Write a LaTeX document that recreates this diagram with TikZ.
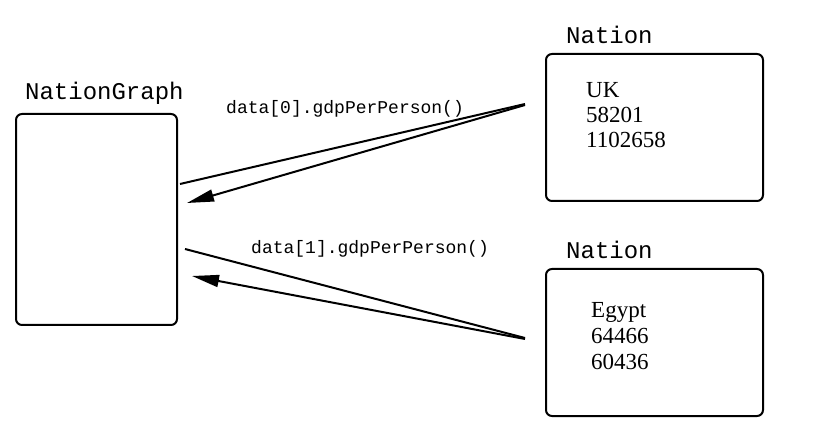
\documentclass[tikz,border=0pt]{standalone}
\usepackage{fontspec}
\setmainfont{Liberation Serif}
\setmonofont{Liberation Mono}
\usetikzlibrary{arrows.meta}
\begin{document}
\begin{tikzpicture}[x=1pt,y=-1pt,
  box/.style={draw, line width=2pt, rounded corners=6pt, inner sep=0pt, anchor=north west},
  cls/.style={font=\fontsize{24}{24}\selectfont\ttfamily, anchor=base west, inner sep=0pt},
  msg/.style={font=\fontsize{18}{18}\selectfont\ttfamily, anchor=base west, inner sep=0pt},
  val/.style={font=\fontsize{23}{23}\selectfont\rmfamily, anchor=base west, inner sep=0pt},
  conn/.style={line width=2pt},
  call/.style={line width=2pt, -{Triangle[length=27pt,width=12pt]}}]
\useasboundingbox (0,0) rectangle (817,430);
% boxes
\node[box, minimum width=161pt, minimum height=211pt] (graph) at (15,113) {};
\node[box, minimum width=217pt, minimum height=147pt] (uk) at (545,53) {};
\node[box, minimum width=217pt, minimum height=147pt] (egypt) at (545,268) {};
% class labels
\node[cls] (graphlbl) at (25,100) {NationGraph};
\node[cls] (uklbl) at (566,44) {Nation};
\node[cls] (egyptlbl) at (566,259) {Nation};
% values
\node[val] (uk1) at (586,98) {UK};
\node[val] (uk2) at (586,123) {58201};
\node[val] (uk3) at (586,148) {1102658};
\node[val] (eg1) at (591,318) {Egypt};
\node[val] (eg2) at (591,344) {64466};
\node[val] (eg3) at (591,370) {60436};
% message labels
\node[msg] (m0) at (226,114) {data[0].gdpPerPerson()};
\node[msg] (m1) at (251,254) {data[1].gdpPerPerson()};
% connector ends
\coordinate (a1s) at (180,184);
\coordinate (a1e) at (525,104);
\coordinate (r1s) at (525,105);
\coordinate (r1e) at (187,203);
\coordinate (a2s) at (185,249);
\coordinate (a2e) at (525,338);
\coordinate (r2s) at (525,339);
\coordinate (r2e) at (192,276);
\draw[conn] (a1s) -- (a1e);
\draw[call] (r1s) -- (r1e);
\draw[conn] (a2s) -- (a2e);
\draw[call] (r2s) -- (r2e);
\end{tikzpicture}
\end{document}
